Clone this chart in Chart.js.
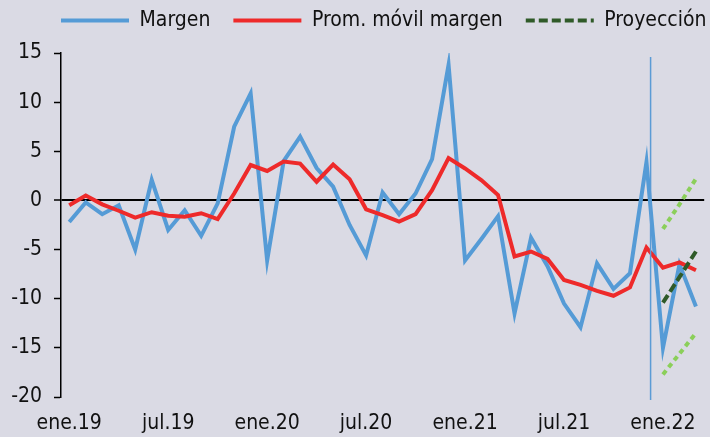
<!DOCTYPE html>
<html>
<head>
<meta charset="utf-8">
<script src="https://cdn.jsdelivr.net/npm/chart.js@4.4.1/dist/chart.umd.min.js"></script>
<style>
  html, body { margin: 0; padding: 0; background: #dadae4; }
  #wrap { width: 710px; height: 437px; position: relative; }
</style>
</head>
<body>
<div id="wrap"><canvas id="margenChart"></canvas></div>
<script>
// meses ene.19 - mar.22
const meses = [
  'ene.19', 'feb.19', 'mar.19', 'abr.19', 'may.19', 'jun.19', 'jul.19', 'ago.19', 'sep.19', 'oct.19', 'nov.19', 'dic.19',
  'ene.20', 'feb.20', 'mar.20', 'abr.20', 'may.20', 'jun.20', 'jul.20', 'ago.20', 'sep.20', 'oct.20', 'nov.20', 'dic.20',
  'ene.21', 'feb.21', 'mar.21', 'abr.21', 'may.21', 'jun.21', 'jul.21', 'ago.21', 'sep.21', 'oct.21', 'nov.21', 'dic.21',
  'ene.22', 'feb.22', 'mar.22'
];

const margen = [
  -2.2, -0.2, -1.4, -0.5, -5.0, 2.1, -3.0, -1.0, -3.6, -0.3, 7.5, 10.9,
  -6.1, 4.0, 6.5, 3.3, 1.4, -2.5, -5.6, 0.8, -1.4, 0.7, 4.2, 13.8,
  -6.1, -3.9, -1.6, -11.5, -3.8, -6.7, -10.5, -12.9, -6.4, -9.0, -7.4, 3.9,
  -15.0, -6.5, -10.8
];

const promMovil = [
  -0.5, 0.5, -0.4, -1.05, -1.75, -1.2, -1.55, -1.65, -1.3, -1.9, 0.7, 3.6,
  3.0, 3.95, 3.75, 1.9, 3.65, 2.15, -0.9, -1.5, -2.15, -1.4, 1.05, 4.3,
  3.25, 2.05, 0.55, -5.7, -5.2, -5.95, -8.1, -8.6, -9.2, -9.7, -8.85, -4.8,
  -6.85, -6.3, -7.1
];

// proyeccion y bandas
const mesesProy = ['ene.22', 'feb.22', 'mar.22'];
const proyeccion = [-10.4, -7.8, -5.2];
const bandaSup = [-2.9, -0.4, 2.2];
const bandaInf = [-17.7, -15.6, -13.5];

// linea vertical de corte (posicion en meses, rango en y)
const cortePos = 35.25;
const corteRango = [-20.3, 14.6];

const yTicks = [-20, -15, -10, -5, 0, 5, 10, 15];

const FONT = '"DejaVu Sans Condensed", "Liberation Sans Narrow", "Noto Sans", sans-serif';
Chart.defaults.font.family = FONT;
Chart.defaults.font.size = 21;
Chart.defaults.color = '#111';

const toPoints = (labels, vals) => labels.map((m, i) => ({ x: m, y: vals[i] }));

const corteLine = {
  id: 'corteLine',
  afterDatasetsDraw(chart) {
    const { ctx, scales: { x, y } } = chart;
    const px = x.getPixelForValue(cortePos);
    ctx.save();
    ctx.strokeStyle = '#5b9bd5';
    ctx.lineWidth = 1.5;
    ctx.beginPath();
    ctx.moveTo(px, y.getPixelForValue(corteRango[1]));
    ctx.lineTo(px, y.getPixelForValue(corteRango[0]));
    ctx.stroke();
    ctx.restore();
  }
};

// legend: one row, fixed height, shifted into place
const legendPlace = {
  id: 'legendPlace',
  beforeInit(chart) {
    const legend = chart.legend;
    const fit = legend.fit;
    legend.fit = function () {
      const mw = this.maxWidth;
      this.maxWidth = 2000;
      fit.call(this);
      this.maxWidth = mw;
      this.width = mw;
      this.height = 53;
    };
    const draw = legend.draw;
    legend.draw = function () {
      const r = this.right;
      this.right = r + 200;
      this.ctx.save();
      this.ctx.translate(38, -13);
      draw.call(this);
      this.ctx.restore();
      this.right = r;
    };
  }
};

const data = {
  labels: meses,
  datasets: [{
    label: 'Margen',
    data: margen,
    borderColor: '#559bd6',
    borderWidth: 4,
    pointRadius: 0,
    pointStyle: 'line',
    order: 5
  }, {
    label: 'Prom. móvil margen',
    data: promMovil,
    borderColor: '#ee2a2a',
    borderWidth: 4,
    pointRadius: 0,
    pointStyle: 'line',
    order: 4
  }, {
    label: 'Proyección',
    data: toPoints(mesesProy, proyeccion),
    borderColor: '#2f5a28',
    borderWidth: 4,
    borderDash: [9, 4],
    pointRadius: 0,
    pointStyle: 'line',
    order: 1
  }, {
    label: 'Banda superior',
    data: toPoints(mesesProy, bandaSup),
    borderColor: '#8bcf5a',
    borderWidth: 4,
    borderDash: [5, 4],
    pointRadius: 0,
    order: 2
  }, {
    label: 'Banda inferior',
    data: toPoints(mesesProy, bandaInf),
    borderColor: '#8bcf5a',
    borderWidth: 4,
    borderDash: [5, 4],
    pointRadius: 0,
    order: 2
  }]
};

const config = {
  type: 'line',
  data: data,
  options: {
    responsive: true,
    maintainAspectRatio: false,
    animation: false,
    layout: { padding: { left: 0, right: 4, top: 0, bottom: 2 } },
    plugins: {
      legend: {
        position: 'top',
        align: 'start',
        labels: {
          usePointStyle: true,
          pointStyleWidth: 68,
          padding: 23,
          color: '#111',
          filter: (item) => item.datasetIndex < 3,
          sort: (a, b) => a.datasetIndex - b.datasetIndex,
          generateLabels(chart) {
            const items = Chart.defaults.plugins.legend.labels.generateLabels(chart);
            return items.map(it => {
              const ds = chart.data.datasets[it.datasetIndex];
              return { ...it, lineDash: ds.borderDash || [], lineWidth: ds.borderWidth, strokeStyle: ds.borderColor };
            });
          }
        }
      },
      tooltip: { enabled: false }
    },
    scales: {
      x: {
        offset: true,
        grid: { display: false, drawTicks: false },
        border: { display: false },
        afterFit: (scale) => { scale.height = 38; },
        ticks: {
          autoSkip: false,
          maxRotation: 0,
          padding: 14,
          callback: function (value) {
            const l = this.getLabelForValue(value);
            return (l.startsWith('ene') || l.startsWith('jul')) ? l : '';
          }
        }
      },
      y: {
        min: yTicks[0],
        max: yTicks[yTicks.length - 1],
        afterFit: (scale) => { scale.width = 61; },
        ticks: { stepSize: 5, padding: 12 },
        border: { color: '#000', width: 1.5 },
        grid: {
          color: (ctx) => ctx.tick && ctx.tick.value === 0 ? '#000' : 'rgba(0,0,0,0)',
          lineWidth: (ctx) => ctx.tick && ctx.tick.value === 0 ? 2 : 1,
          tickColor: '#000',
          tickLength: 7,
          tickWidth: 1.5
        }
      }
    }
  },
  plugins: [corteLine, legendPlace]
};

const margenChart = new Chart(document.getElementById('margenChart'), config);
</script>
</body>
</html>
